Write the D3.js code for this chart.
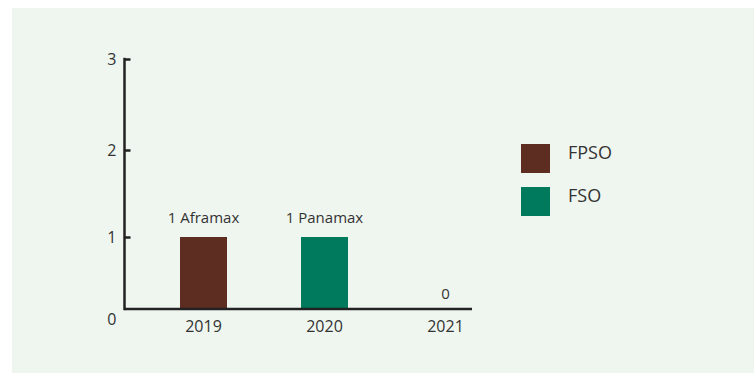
<!DOCTYPE html>
<html>
<head>
<meta charset="utf-8">
<script src="https://cdn.jsdelivr.net/npm/d3@7"></script>
<style>
  html, body { margin: 0; padding: 0; background: #ffffff; }
  svg { display: block; }
  text { font-family: "Open Sans", "Noto Sans", sans-serif; fill: #333; }
</style>
</head>
<body>
<svg id="chart" width="754" height="373"></svg>
<script>
// ---- data ----
const years = ["2019", "2020", "2021"];
const values = [1, 1, 0];
const types = ["FPSO", "FSO", null];
const barLabels = ["1 Aframax", "1 Panamax", "0"];
const yTicks = [0, 1, 2, 3];
const legendItems = ["FPSO", "FSO"];
const legendColors = ["#5c2d20", "#007a5c"];

// ---- layout ----
const svg = d3.select("#chart");
svg.append("rect").attr("x", 12).attr("y", 8).attr("width", 742).attr("height", 365)
  .attr("fill", "#eff6f0");

const axisX = 124.5, axisY = 309, axisRight = 472;

// y axis (piecewise linear, as in the original artwork)
const y = d3.scaleLinear().domain([0, 1, 2, 3]).range([309, 237, 150, 59]);

// x band scale
const step = 121;
const x = d3.scaleBand().domain(years)
  .paddingInner(1 - 47 / step).paddingOuter((180 - axisX) / step)
  .range([axisX, axisX + step * (3 - (1 - 47 / step) + 2 * ((180 - axisX) / step))]);

const color = d3.scaleOrdinal().domain(legendItems).range(legendColors);

// bars
const data = years.map((yr, i) => ({ year: yr, value: values[i], type: types[i], label: barLabels[i] }));
svg.append("g").selectAll("rect").data(data.filter(d => d.value > 0)).join("rect")
  .attr("x", d => x(d.year))
  .attr("y", d => y(d.value))
  .attr("width", x.bandwidth())
  .attr("height", d => y(0) - y(d.value))
  .attr("fill", d => color(d.type));

// bar labels
svg.append("g").selectAll("text").data(data).join("text")
  .attr("x", d => x(d.year) + x.bandwidth() / 2)
  .attr("y", d => y(d.value) - (d.value > 0 ? 14 : 10))
  .attr("text-anchor", "middle")
  .style("font-size", "15px")
  .text(d => d.label);

// y axis
const yAxis = svg.append("g").attr("transform", `translate(${axisX},0)`)
  .call(d3.axisLeft(y).tickValues(yTicks).tickFormat(d3.format("d")).tickSize(-6).tickPadding(8));
yAxis.select(".domain").remove();
yAxis.selectAll(".tick line").attr("stroke", "#222").attr("stroke-width", 2.5);
yAxis.selectAll(".tick").filter(d => d === 0).select("line").remove();
yAxis.selectAll(".tick text").style("font-size", "16px").attr("fill", "#333")
  .attr("dy", d => d === 0 ? "0.95em" : "0.36em");
yAxis.append("line").attr("x1", 0).attr("x2", 0).attr("y1", y(3) - 1.2).attr("y2", y(0) + 1.2)
  .attr("stroke", "#222").attr("stroke-width", 2.5);

// x axis
const xAxis = svg.append("g").attr("transform", `translate(0,${axisY})`)
  .call(d3.axisBottom(x).tickSize(0).tickPadding(12));
xAxis.select(".domain").remove();
xAxis.selectAll(".tick text").style("font-size", "16px").attr("fill", "#333");
xAxis.append("line").attr("x1", axisX).attr("x2", axisRight).attr("y1", 0).attr("y2", 0)
  .attr("stroke", "#222").attr("stroke-width", 2.5);

// legend
const legend = svg.append("g").selectAll("g").data(legendItems).join("g")
  .attr("transform", (d, i) => `translate(521,${144 + i * 43})`);
legend.append("rect").attr("width", 29).attr("height", 29).attr("fill", d => color(d));
legend.append("text").attr("x", 47).attr("y", 15).style("font-size", "18px").text(d => d);
</script>
</body>
</html>
